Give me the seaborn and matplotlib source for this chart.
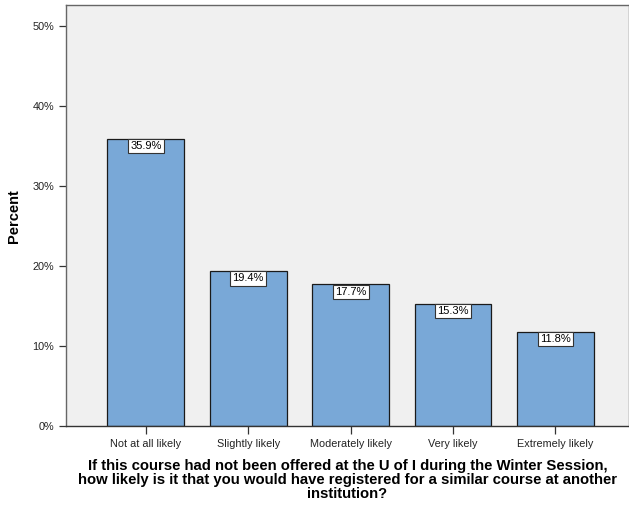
import pandas as pd
import numpy as np
import matplotlib.pyplot as plt
import seaborn as sns

# -------------------------------
# Data
# -------------------------------
categories = ['Not at all likely', 'Slightly likely', 'Moderately likely',
              'Very likely', 'Extremely likely']
percents = [35.9, 19.4, 17.7, 15.3, 11.8]
y_ticks = [0, 10, 20, 30, 40, 50]
y_tick_labels = ['0%', '10%', '20%', '30%', '40%', '50%']

df = pd.DataFrame({'category': categories, 'percent': percents})

# -------------------------------
# Plot
# -------------------------------
sns.set_style('white')
plt.rcParams['font.family'] = ['Liberation Sans', 'DejaVu Sans']

fig = plt.figure(figsize=(6.29, 5.05), dpi=100)
ax = fig.add_axes([0.105, 0.156, 0.895, 0.834])
ax.set_facecolor('#f0f0f0')

sns.barplot(data=df, x='category', y='percent', color='#79a8d7',
            saturation=1, width=0.75, edgecolor='#1a1a1a', linewidth=0.9, ax=ax)

for i, v in enumerate(percents):
    ax.text(i, v - 0.3, f'{v:.1f}%', ha='center', va='top', fontsize=8,
            color='black',
            bbox=dict(boxstyle='square,pad=0.2', facecolor='white',
                      edgecolor='#333333', linewidth=0.8))

ax.set_xlim(-0.78, 4.72)
ax.set_ylim(0, 52.6)
ax.set_yticks(y_ticks)
ax.set_yticklabels(y_tick_labels, fontsize=7.8, color='#222222')
ax.tick_params(axis='x', labelsize=7.8, labelcolor='#222222', direction='out',
               length=6, width=0.9, color='#333333', bottom=True)
ax.tick_params(axis='y', direction='out', length=5, width=0.9, color='#333333', left=True)

for side in ['left', 'top', 'bottom', 'right']:
    ax.spines[side].set_color('#666666')
    ax.spines[side].set_linewidth(1.0)
ax.spines['bottom'].set_color('#333333')

ax.set_ylabel('Percent', fontsize=10.5, fontweight='bold', labelpad=8, color='black')
ax.set_xlabel('If this course had not been offered at the U of I during the Winter Session,\n'
              'how likely is it that you would have registered for a similar course at another\n'
              'institution?', fontsize=10.7, fontweight='bold', linespacing=1.0,
              labelpad=7, color='black')

plt.savefig('out.png', dpi=100)
